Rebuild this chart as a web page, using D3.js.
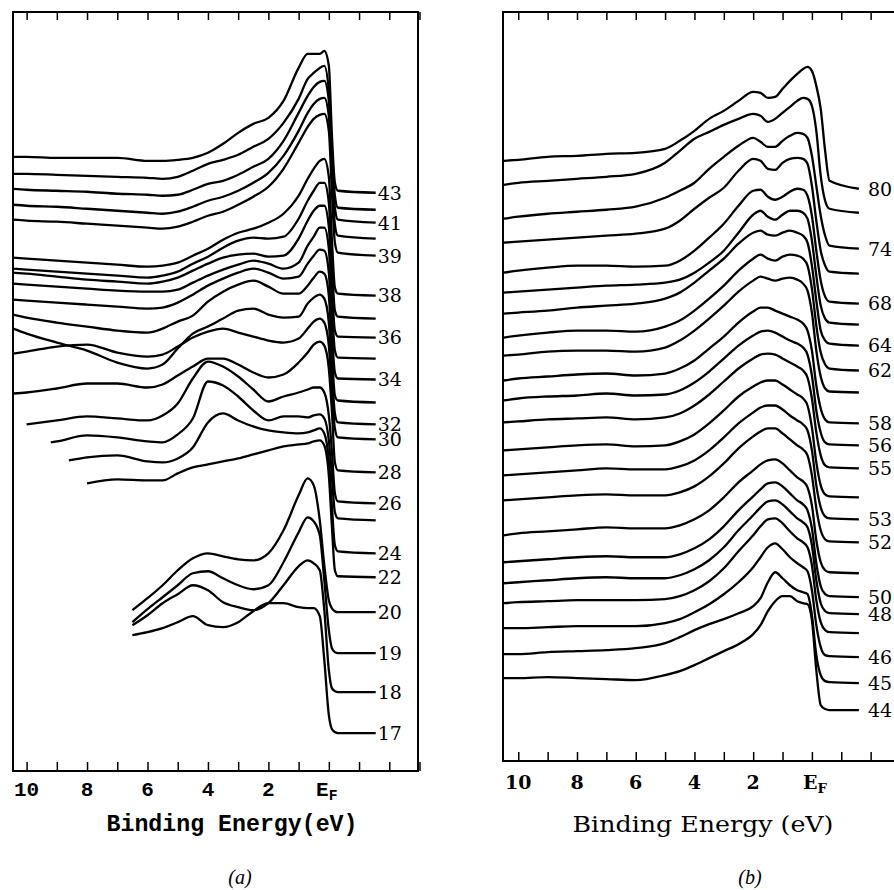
<!DOCTYPE html>
<html>
<head>
<meta charset="utf-8">
<script src="https://cdn.jsdelivr.net/npm/d3@7/dist/d3.min.js"></script>
<style>
  body { margin: 0; background: #fff; }
</style>
</head>
<body>
<svg id="chart" width="894" height="890"></svg>
<script>
// ---- panel (a): binding energy grid (eV) and spectra, top to bottom ----
const energyA = [10.45, 10, 9.2, 9, 8.6, 8, 7, 6.5, 6, 5.5, 5, 4.5, 4, 3.5, 3, 2.5, 2, 1.5, 1, 0.7, 0.5, 0.3, 0.15, 0, -0.1, -0.2, -0.3, -1.55];
const spectraA = [
  [615, 615, null, 614, null, 614, 614, null, 611, 611, 612, 614, 619, 628, 639, 648, 654, 671, 704, 718, 718, 718, 721, 706, 638, 589, 581, 579],
  [598, 598, null, 597, null, 596, 595, null, 594, 593, 595, 601, 608, 612, 617, 625, 633, 649, 673, 693, 699, 704, 706, 681, 621, 576, 564, 562],
  [583, 582, null, 581, null, 580, 578, null, 577, 576, 577, 582, 588, 591, 597, 605, 613, 631, 659, 676, 685, 690, 691, 671, 611, 564, 552, 549],
  [567, 566, null, 565, null, 563, 561, null, 559, 558, 560, 565, 571, 575, 581, 589, 599, 616, 641, 659, 668, 673, 674, 656, 596, 547, 536, 533],
  [552, 551, null, 550, null, 548, 546, null, 544, 543, 545, 550, 556, 560, 567, 575, 585, 603, 629, 645, 653, 657, 658, 641, 581, 529, 519, 516],
  [514, 513, null, 511, null, 509, 507, null, 505, 506, 509, 516, 523, 532, 539, 543, 549, 558, 576, 593, 603, 611, 613, 595, 533, 484, 478, 476],
  [503, 502, null, 500, null, 498, 496, null, 494, 496, 500, 508, 515, 524, 531, 534, 533, 535, 553, 571, 581, 589, 589, 569, 509, 461, 455, 453],
  [499, 498, null, 495, null, 492, 490, null, 488, 490, 494, 501, 508, 514, 517, 518, 515, 516, 533, 551, 561, 566, 566, 545, 486, 441, 435, 434],
  [488, 487, null, 485, null, 483, 481, null, 480, 480, 482, 489, 496, 502, 507, 511, 508, 503, 509, 526, 535, 544, 544, 523, 466, 421, 414, 413],
  [472, 471, null, 469, null, 467, 465, null, 463, 464, 469, 477, 486, 493, 499, 503, 499, 493, 495, 508, 516, 522, 521, 499, 441, 399, 393, 392],
  [457, 454, null, 449, null, 445, 441, null, 439, 443, 450, 456, 470, 480, 487, 491, 485, 478, 478, 486, 494, 500, 498, 476, 421, 376, 371, 369],
  [443, 438, null, 429, null, 421, 409, null, 403, 407, 423, 438, 445, 453, 461, 463, 457, 454, 455, 468, 474, 477, 473, 449, 401, 358, 349, 347],
  [418, 420, null, 425, null, 427, 419, null, 415, 417, 425, 434, 440, 443, 439, 435, 431, 429, 433, 443, 450, 453, 449, 426, 381, 343, 334, 332],
  [378, 379, null, 383, null, 388, 388, null, 384, 387, 396, 405, 413, 413, 407, 399, 394, 397, 409, 419, 427, 430, 426, 403, 361, 309, 301, 299],
  [null, 347, null, 351, null, 355, 353, null, 351, 356, 368, 393, 410, 405, 395, 382, 370, 375, 379, 382, 384, 384, 379, 356, 321, 278, 270, 268],
  [null, null, 329, 330, null, 336, 334, null, 330, 329, 337, 353, 390, 386, 375, 361, 351, 355, 355, 354, 356, 357, 353, 331, 296, 259, 253, 251],
  [null, null, null, null, 311, 314, 316, null, 310, 309, 313, 324, 349, 358, 351, 345, 341, 339, 338, 339, 341, 343, 338, 311, 266, 226, 220, 218],
  [null, null, null, null, null, 288, 292, null, 291, 291, 298, 304, 307, 310, 313, 317, 321, 325, 327, 328, 330, 331, 326, 296, 246, 201, 195, 194],
  [null, null, null, null, null, null, null, 161, 173, 186, 201, 213, 218, 215, 212, 211, 218, 241, 276, 293, 286, 251, 206, 171, 163, 160, 159, 159],
  [null, null, null, null, null, null, null, 149, 162, 174, 186, 198, 200, 193, 186, 182, 186, 209, 239, 254, 250, 236, 191, 141, 123, 119, 118, 118],
  [null, null, null, null, null, null, null, 146, 156, 168, 177, 186, 181, 169, 164, 161, 168, 186, 205, 211, 208, 201, 161, 101, 83, 80, 79, 79],
  [null, null, null, null, null, null, null, 136, 139, 143, 149, 155, 146, 144, 149, 160, 168, 168, 164, 163, 163, 155, 111, 56, 42, 39, 38, 38]
];
const labelsA = ['43', '', '41', '', '39', '38', '', '36', '', '34', '', '32', '30', '28', '26', '', '24', '22', '20', '19', '18', '17'];

// ---- panel (b) ----
const energyB = [10.5, 10, 9, 8, 7, 6, 5, 4.5, 4, 3.5, 3, 2.5, 2, 1.75, 1.5, 1.25, 1, 0.75, 0.5, 0.3, 0.15, 0, -0.15, -0.3, -0.45, -0.6, -1.6];
const spectraB = [
  [601, 602, 605, 606, 608, 609, 613, 621, 631, 643, 651, 661, 670, 669, 664, 665, 673, 681, 688, 693, 695, 691, 676, 653, 611, 581, 573],
  [577, 579, 581, 583, 585, 588, 599, 611, 623, 630, 637, 643, 648, 646, 640, 643, 649, 655, 661, 664, 663, 656, 631, 586, 561, 553, 549],
  [543, 545, 548, 550, 552, 555, 564, 571, 579, 593, 605, 616, 624, 620, 615, 615, 621, 626, 629, 628, 624, 606, 576, 546, 526, 516, 513],
  [519, 520, 522, 524, 526, 528, 533, 541, 553, 564, 574, 591, 603, 601, 593, 592, 599, 603, 604, 603, 598, 576, 541, 511, 496, 490, 488],
  [489, 491, 494, 496, 496, 495, 496, 501, 511, 524, 538, 556, 571, 572, 565, 562, 565, 570, 573, 572, 566, 546, 511, 481, 465, 460, 458],
  [469, 470, 472, 474, 476, 477, 479, 482, 489, 499, 511, 529, 547, 551, 545, 542, 547, 551, 551, 549, 543, 521, 486, 456, 443, 439, 437],
  [448, 449, 451, 454, 456, 458, 463, 469, 479, 491, 503, 518, 529, 531, 527, 526, 529, 531, 529, 526, 519, 496, 461, 431, 421, 418, 416],
  [424, 426, 429, 431, 431, 430, 435, 441, 451, 463, 476, 491, 503, 507, 503, 501, 505, 507, 506, 503, 496, 473, 436, 409, 397, 393, 391],
  [406, 407, 410, 411, 411, 410, 414, 421, 431, 443, 456, 470, 481, 485, 483, 481, 483, 484, 482, 478, 471, 449, 411, 385, 373, 370, 369],
  [381, 383, 385, 387, 388, 386, 388, 393, 401, 413, 425, 439, 450, 454, 454, 451, 448, 445, 442, 438, 431, 411, 376, 353, 342, 339, 338],
  [361, 363, 365, 366, 368, 366, 367, 371, 379, 390, 403, 416, 426, 430, 431, 429, 425, 421, 418, 414, 407, 386, 351, 329, 319, 317, 316],
  [339, 340, 342, 343, 344, 342, 344, 348, 356, 367, 380, 393, 403, 407, 408, 407, 403, 399, 395, 391, 384, 363, 329, 306, 296, 294, 293],
  [311, 312, 314, 316, 317, 315, 316, 320, 327, 338, 351, 365, 375, 379, 381, 381, 377, 372, 367, 363, 356, 334, 299, 276, 267, 265, 264],
  [286, 287, 289, 291, 293, 292, 292, 295, 301, 311, 324, 338, 349, 354, 356, 356, 352, 346, 341, 337, 331, 311, 276, 254, 245, 243, 242],
  [261, 262, 264, 266, 267, 266, 266, 269, 275, 285, 298, 313, 325, 330, 333, 333, 328, 322, 316, 312, 306, 286, 253, 231, 222, 220, 219],
  [226, 228, 230, 232, 234, 233, 233, 236, 242, 251, 264, 279, 291, 297, 301, 302, 298, 291, 284, 280, 274, 256, 221, 199, 191, 189, 188],
  [199, 200, 202, 204, 205, 204, 204, 207, 213, 222, 235, 251, 265, 272, 278, 279, 275, 268, 261, 257, 251, 233, 198, 175, 167, 165, 164],
  [178, 179, 181, 183, 184, 183, 183, 186, 192, 201, 214, 231, 246, 254, 260, 261, 257, 250, 243, 239, 234, 216, 181, 158, 150, 148, 147],
  [158, 159, 160, 161, 161, 161, 162, 165, 171, 180, 193, 210, 226, 235, 242, 243, 238, 230, 223, 219, 214, 196, 161, 139, 131, 129, 128],
  [133, 133, 134, 135, 135, 135, 138, 142, 149, 157, 167, 179, 194, 204, 214, 218, 212, 204, 198, 194, 190, 171, 136, 114, 106, 105, 104],
  [107, 107, 109, 110, 111, 113, 118, 124, 131, 137, 142, 148, 155, 163, 179, 189, 183, 176, 171, 169, 167, 146, 106, 86, 80, 79, 78],
  [83, 83, 84, 83, 82, 81, 86, 90, 96, 103, 110, 117, 127, 136, 150, 160, 165, 165, 160, 158, 157, 141, 91, 56, 52, 51, 51]
];
const labelsB = ['80', '', '74', '', '68', '', '64', '62', '', '58', '56', '55', '', '53', '52', '', '50', '48', '', '46', '45', '44'];

const tickValues = [10, 9, 8, 7, 6, 5, 4, 3, 2, 1, 0, -1, -2, -3];
const tickLabelValues = [10, 8, 6, 4, 2, 0];

const svg = d3.select('#chart');

function drawPanel(p) {
  const g = svg.append('g');
  const x = d3.scaleLinear().domain(p.xDomain).range([p.left, p.right]);
  const y = d3.scaleLinear().domain(p.yDomain).range([p.bottom, p.top]);

  // spectra
  const line = d3.line()
    .x((d) => x(d[0]))
    .y((d) => y(d[1]))
    .curve(d3.curveMonotoneX);

  p.spectra.forEach((s, i) => {
    const pts = p.energy.map((e, j) => [e, s[j]]).filter((d) => d[1] != null);
    g.append('path')
      .attr('d', line(pts))
      .attr('fill', 'none')
      .attr('stroke', '#000')
      .attr('stroke-width', 2.3)
      .attr('stroke-linejoin', 'round');
    if (p.labels[i]) {
      const last = pts[pts.length - 1];
      g.append('text')
        .attr('x', x(last[0]) + p.labelGap)
        .attr('y', y(last[1]))
        .attr('dy', '0.36em')
        .attr('font-family', 'DejaVu Serif, serif')
        .attr('font-size', p.labelSize)
        .text(p.labels[i]);
    }
  });

  // frame
  g.append('rect')
    .attr('x', p.left).attr('y', p.top)
    .attr('width', p.right - p.left).attr('height', p.bottom - p.top)
    .attr('fill', 'none').attr('stroke', '#000').attr('stroke-width', 2);

  // inward ticks, top and bottom
  g.append('g')
    .attr('transform', `translate(0,${p.top})`)
    .call(d3.axisBottom(x).tickValues(tickValues).tickSize(8).tickFormat(''))
    .call((a) => a.select('.domain').remove())
    .selectAll('line').attr('stroke-width', 1.5);
  g.append('g')
    .attr('transform', `translate(0,${p.bottom})`)
    .call(d3.axisTop(x).tickValues(tickValues).tickSize(9).tickFormat(''))
    .call((a) => a.select('.domain').remove())
    .selectAll('line').attr('stroke-width', 1.5);

  // tick labels
  tickLabelValues.forEach((v) => {
    const t = g.append('text')
      .attr('x', x(v) + (v === 0 ? p.efShift : 0))
      .attr('y', p.tickLabelY)
      .attr('text-anchor', 'middle')
      .attr('font-family', p.tickFont)
      .attr('font-weight', 'bold')
      .attr('font-size', p.tickSize);
    if (v === 0) {
      t.append('tspan').text('E');
      t.append('tspan').attr('dy', 4).attr('font-size', p.tickSize * 0.7).text('F');
    } else {
      t.text(v);
    }
  });

  // axis title
  g.append('text')
    .attr('x', p.titleX)
    .attr('y', p.titleY)
    .attr('text-anchor', 'middle')
    .attr('font-family', p.titleFont)
    .attr('font-weight', p.titleWeight)
    .attr('font-size', p.titleSize)
    .attr('textLength', p.titleLength)
    .attr('lengthAdjust', 'spacingAndGlyphs')
    .text(p.title);

  // panel caption
  g.append('text')
    .attr('x', p.captionX)
    .attr('y', 884)
    .attr('text-anchor', 'middle')
    .attr('font-family', 'Liberation Serif, serif')
    .attr('font-style', 'italic')
    .attr('font-size', 20)
    .text(p.caption);
}

drawPanel({
  energy: energyA, spectra: spectraA, labels: labelsA,
  xDomain: [10.45, -2.95], yDomain: [0, 760],
  left: 13, right: 418, top: 12, bottom: 771,
  labelGap: 2, labelSize: 19,
  tickLabelY: 796, tickFont: 'Liberation Mono, monospace', tickSize: 21, efShift: -2,
  title: 'Binding Energy(eV)', titleX: 232, titleY: 831, titleFont: 'Liberation Mono, monospace',
  titleWeight: 'bold', titleSize: 23, titleLength: 251,
  caption: '(a)', captionX: 240
});

drawPanel({
  energy: energyB, spectra: spectraB, labels: labelsB,
  xDomain: [10.52, -3.0], yDomain: [0, 750],
  left: 503, right: 900, top: 12, bottom: 761,
  labelGap: 9, labelSize: 19,
  tickLabelY: 789, tickFont: 'DejaVu Serif, serif', tickSize: 19, efShift: 3,
  title: 'Binding Energy (eV)', titleX: 703, titleY: 832, titleFont: 'DejaVu Serif, serif',
  titleWeight: 'normal', titleSize: 22, titleLength: 261,
  caption: '(b)', captionX: 750
});
</script>
</body>
</html>
